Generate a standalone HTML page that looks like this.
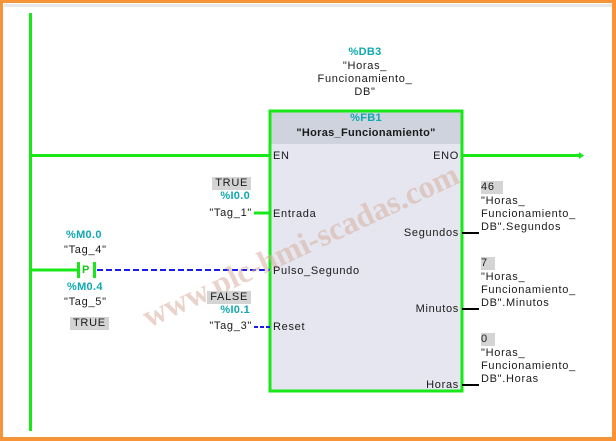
<!DOCTYPE html>
<html><head><meta charset="utf-8"><style>
body{margin:0;width:616px;height:441px;overflow:hidden;background:#fff;position:relative;font-family:"Liberation Sans",sans-serif;font-size:11px;color:#1a1a1a;letter-spacing:0.7px}
.t{position:absolute;white-space:nowrap;line-height:13px}
.c{color:#10a8b0;font-weight:bold;letter-spacing:0.3px}
.g{background:#d4d4d4;padding:0 3px}
.ctr{text-align:center}
.r{text-align:right}
</style></head><body>
<div style="position:absolute;left:0;top:0;width:616px;height:441px;box-sizing:border-box;border:3px solid #f7943a;border-right-width:4px;border-bottom-width:4px"></div>
<div style="position:absolute;left:4px;top:4px;width:608px;height:3px;background:#e8e8e8"></div>
<svg width="616" height="441" style="position:absolute;left:0;top:0">
<rect x="29" y="13" width="3" height="418" fill="#18e818"/>
<line x1="31" y1="155.5" x2="270" y2="155.5" stroke="#18e818" stroke-width="3"/>
<line x1="462" y1="155.5" x2="582" y2="155.5" stroke="#18e818" stroke-width="3"/>
<polygon points="579,152 584,155.5 579,159" fill="#18e818"/>
<rect x="271" y="112" width="190" height="278" fill="#e5e6ef"/>
<rect x="271" y="112" width="190" height="32" fill="#cfd3de"/>
<rect x="270" y="111" width="192" height="280" fill="none" stroke="#18e818" stroke-width="3"/>
<line x1="31" y1="270" x2="78" y2="270" stroke="#18e818" stroke-width="3"/>
<rect x="77" y="262" width="3" height="16" fill="#18e818"/>
<rect x="93" y="262" width="3" height="16" fill="#18e818"/>
<line x1="97" y1="270" x2="270" y2="270" stroke="#1a1aee" stroke-width="2" stroke-dasharray="6,3"/>
<line x1="254" y1="213" x2="270" y2="213" stroke="#18e818" stroke-width="3"/>
<line x1="254" y1="327" x2="270" y2="327" stroke="#1a1aee" stroke-width="2" stroke-dasharray="4,2"/>
<line x1="462" y1="233" x2="479" y2="233" stroke="#000" stroke-width="2"/>
<line x1="462" y1="309" x2="479" y2="309" stroke="#000" stroke-width="2"/>
<line x1="462" y1="385" x2="479" y2="385" stroke="#000" stroke-width="2"/>
<text x="305" y="255" transform="rotate(-25 305 255)" font-family="Liberation Serif" font-size="32" font-weight="bold" fill="#d8b0a0" opacity="0.55" text-anchor="middle" letter-spacing="0">www.plc-hmi-scadas.com</text>
</svg>
<div class="t c ctr" style="left:320px;top:46px;width:90px">%DB3</div>
<div class="t ctr" style="left:290px;top:60px;width:150px">"Horas_<br>Funcionamiento_<br>DB"</div>
<div class="t c ctr" style="left:271px;top:112px;width:190px">%FB1</div>
<div class="t ctr" style="left:271px;top:127px;width:190px;font-weight:bold;letter-spacing:0.3px">"Horas_Funcionamiento"</div>
<div class="t" style="left:273px;top:150px">EN</div>
<div class="t r" style="right:157px;top:150px">ENO</div>
<div class="t" style="left:273px;top:208px">Entrada</div>
<div class="t" style="left:273px;top:265px">Pulso_Segundo</div>
<div class="t" style="left:273px;top:321px">Reset</div>
<div class="t r" style="right:157px;top:227px">Segundos</div>
<div class="t r" style="right:157px;top:303px">Minutos</div>
<div class="t r" style="right:157px;top:379px">Horas</div>
<div class="t g" style="right:365px;top:177px">TRUE</div>
<div class="t c r" style="right:366px;top:190px">%I0.0</div>
<div class="t r" style="right:364px;top:207px">"Tag_1"</div>
<div class="t g" style="right:365px;top:291px">FALSE</div>
<div class="t c r" style="right:366px;top:304px">%I0.1</div>
<div class="t r" style="right:364px;top:320px">"Tag_3"</div>
<div class="t c" style="left:66px;top:229px">%M0.0</div>
<div class="t" style="left:64px;top:244px">"Tag_4"</div>
<div class="t c" style="left:82px;top:264px;color:#18c818">P</div>
<div class="t c" style="left:67px;top:281px">%M0.4</div>
<div class="t" style="left:64px;top:296px">"Tag_5"</div>
<div class="t g" style="left:70px;top:317px">TRUE</div>
<div class="t g" style="left:481px;top:181px;padding-right:8px;padding-left:0">46</div>
<div class="t" style="left:481px;top:195px">"Horas_<br>Funcionamiento_<br>DB".Segundos</div>
<div class="t g" style="left:481px;top:257px;padding-right:7px;padding-left:0">7</div>
<div class="t" style="left:481px;top:271px">"Horas_<br>Funcionamiento_<br>DB".Minutos</div>
<div class="t g" style="left:481px;top:333px;padding-right:7px;padding-left:0">0</div>
<div class="t" style="left:481px;top:347px">"Horas_<br>Funcionamiento_<br>DB".Horas</div>
</body></html>
